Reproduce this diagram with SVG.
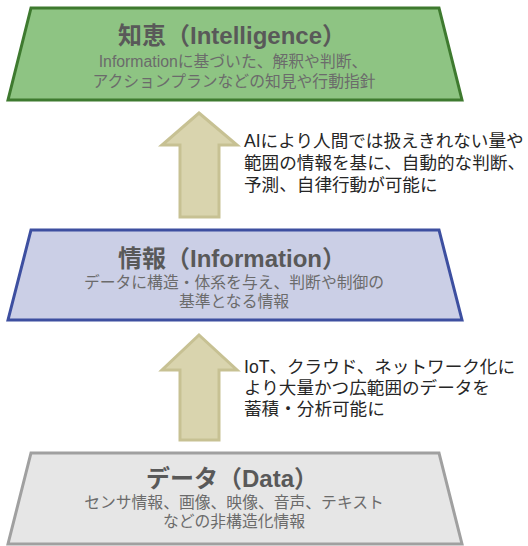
<svg xmlns="http://www.w3.org/2000/svg" width="528" height="546" viewBox="0 0 528 546">
<style>
text{font-family:"Liberation Sans","Noto Sans CJK JP",sans-serif}
.title{font-size:24px;font-weight:bold;fill:#595959;text-anchor:middle}
.sub{font-size:15.8px;fill:#6b6b6b;text-anchor:middle}
.note{font-size:17.6px;fill:#262626}
.arrow{fill:#d9d4ae;stroke:#c7c193;stroke-width:3}
</style>
<g id="wisdom">
<polygon points="31,8 439,8 462,100 8,100" fill="#8ec483" stroke="#3e7a2f" stroke-width="3"/>
<text class="title" x="232" y="44">知恵（Intelligence）</text>
<text class="sub"><tspan x="233" y="67">Informationに基づいた、解釈や判断、</tspan><tspan x="234" y="87">アクションプランなどの知見や行動指針</tspan></text>
</g>
<g id="information">
<polygon points="31,230 439,230 462,320 8,320" fill="#cbcfe6" stroke="#3d4fa0" stroke-width="3"/>
<text class="title" x="232" y="267">情報（Information）</text>
<text class="sub"><tspan x="234" y="288">データに構造・体系を与え、判断や制御の</tspan><tspan x="234" y="307">基準となる情報</tspan></text>
</g>
<g id="data">
<polygon points="31,453 439,453 462,544 8,544" fill="#e6e6e6" stroke="#a0a0a0" stroke-width="3"/>
<text class="title" x="232" y="487">データ（Data）</text>
<text class="sub"><tspan x="234" y="508">センサ情報、画像、映像、音声、テキスト</tspan><tspan x="234" y="527">などの非構造化情報</tspan></text>
</g>
<g id="connectors">
<polygon class="arrow" points="199,113 237,145 219,145 219,217 180,217 180,145 162,145"/>
<polygon class="arrow" points="199,335 237,370 219,370 219,440 180,440 180,370 162,370"/>
</g>
<g id="label1">
<text class="note"><tspan x="244" y="147">AIにより人間では扱えきれない量や</tspan><tspan x="244" y="169">範囲の情報を基に、自動的な判断、</tspan><tspan x="244" y="191">予測、自律行動が可能に</tspan></text>
</g>
<g id="label2">
<text class="note"><tspan x="244" y="373">IoT、クラウド、ネットワーク化に</tspan><tspan x="244" y="394">より大量かつ広範囲のデータを</tspan><tspan x="244" y="415">蓄積・分析可能に</tspan></text>
</g>
</svg>
